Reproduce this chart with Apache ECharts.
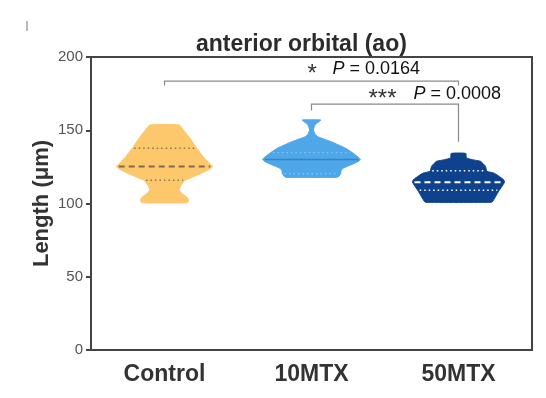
<!DOCTYPE html>
<html><head><meta charset="utf-8">
<script src="https://cdn.jsdelivr.net/npm/echarts@6/dist/echarts.min.js"></script>
<style>html,body{margin:0;padding:0;background:#fff}#c{width:546px;height:398px}</style>
</head><body><div id="c"></div>
<script>
// ---------- data ----------
const categories = ['Control', '10MTX', '50MTX'];
const yTicks = [0, 50, 100, 150, 200];

// violin outlines: [value (µm), relative density]
const controlProfile = [
  [153.6, 0.30], [150, 0.39], [145, 0.51], [137.7, 0.66], [132, 0.79], [128, 0.90],
  [125.5, 0.98], [124, 0.95], [121, 0.78], [118, 0.57], [115.8, 0.42], [112, 0.33],
  [109, 0.30], [106.5, 0.37], [104, 0.47], [102, 0.49], [100.5, 0.46]
];
const mtx10Profile = [
  [157, 0.19], [155.5, 0.14], [153.6, 0.07], [150.2, 0.04], [147.5, 0.07], [145.6, 0.13],
  [142.2, 0.40], [137.7, 0.70], [133.1, 0.90], [130.2, 1.00], [128.5, 0.95], [126.3, 0.80],
  [124, 0.64], [122, 0.60], [120.6, 0.60], [118.3, 0.55], [117.8, 0.50]
];
const mtx50Profile = [
  [134.2, 0.15], [131.1, 0.16], [129.5, 0.35], [128.8, 0.45], [125.4, 0.55], [122.0, 0.58],
  [120.8, 0.72], [120.1, 0.76], [116.3, 0.92], [114.5, 0.94], [108.3, 0.82], [101.5, 0.70],
  [100.8, 0.67]
];
const medians = [125.3, 130.0, 114.5];
const lowerQuartiles = [115.8, 120.3, 109.0];
const upperQuartiles = [137.7, 134.7, 122.3];

// comparisons: [fromIndex, toIndex, barValue, leftLegEnd, rightLegEnd]
const comparisons = [[0, 2, 183.6, 180.5, 180.5], [1, 2, 167.9, 163.5, 142.2]];
const stars = ['*', '***'];
const pValues = ['0.0164', '0.0008'];

// ---------- styling ----------
const profiles = [controlProfile, mtx10Profile, mtx50Profile];
const fills = ['#FDC86C', '#4EA7E8', '#0F428D'];
const medianStyle = [
  { stroke: '#7a6a52', lineWidth: 2, lineDash: [6, 4] },
  { stroke: '#3584c4', lineWidth: 1.6, lineDash: null },
  { stroke: '#ffffff', lineWidth: 2, lineDash: [6, 4] }
];
const quartStyle = [
  { stroke: '#8c7650', lineWidth: 1.5, lineDash: [1.5, 3] },
  { stroke: '#86c3ef', lineWidth: 1.3, lineDash: [1.5, 3] },
  { stroke: '#ffffff', lineWidth: 1.5, lineDash: [1.5, 3] }
];
const starLeft = [-151, -90], pLeft = [-126, -45], labelUp = [-12, -10];

function densityAt(prof, v) {
  for (let k = 0; k < prof.length - 1; k++) {
    const a = prof[k], b = prof[k + 1];
    if ((v <= a[0] && v >= b[0])) {
      const t = (a[0] - v) / (a[0] - b[0] || 1);
      return a[1] + (b[1] - a[1]) * t;
    }
  }
  return 0;
}

const chart = echarts.init(document.getElementById('c'), null, { renderer: 'canvas' });
chart.setOption({
  animation: false,
  backgroundColor: '#fff',
  title: {
    text: 'anterior orbital (ao)', left: 196, top: 33, padding: 0,
    textStyle: { fontFamily: 'Liberation Sans, Arial', fontWeight: 'bold', fontSize: 23, color: '#2b2b2b' }
  },
  grid: { left: 91, right: 14, top: 57, bottom: 48, show: true, borderColor: '#444', borderWidth: 2 },
  xAxis: {
    type: 'category', data: categories, boundaryGap: true,
    axisLine: { lineStyle: { color: '#444', width: 2 } },
    axisTick: { alignWithLabel: true, length: 5, lineStyle: { color: '#444', width: 2 } },
    axisLabel: { margin: 13, fontFamily: 'Liberation Sans, Arial', fontWeight: 'bold', fontSize: 23, color: '#333' }
  },
  yAxis: {
    type: 'value', min: yTicks[0], max: yTicks[yTicks.length - 1], interval: yTicks[1] - yTicks[0],
    name: 'Length (μm)', nameLocation: 'middle', nameGap: 38, nameMoveOverlap: false,
    nameTextStyle: { fontFamily: 'Liberation Sans, Arial', fontWeight: 'bold', fontSize: 22, color: '#333' },
    splitLine: { show: false },
    axisLine: { show: true, lineStyle: { color: '#444', width: 2 } },
    axisTick: { show: true, length: 5, lineStyle: { color: '#444', width: 2 } },
    axisLabel: { margin: 8, fontFamily: 'Liberation Sans, Arial', fontSize: 15, color: '#555' }
  },
  graphic: [{ type: 'line', shape: { x1: 27, y1: 21, x2: 27, y2: 31 }, style: { stroke: '#777', lineWidth: 1 } }],
  series: [
    {
      type: 'custom', coordinateSystem: 'cartesian2d',
      data: categories.map((c, i) => [i]),
      encode: { x: 0 },
      renderItem: function (params, api) {
        const i = api.value(0);
        const prof = profiles[i];
        const hw = api.size([1, 0])[0] * 0.333;
        const cx = api.coord([i, 0])[0];
        const right = prof.map(p => [cx + p[1] * hw, api.coord([i, p[0]])[1]]);
        const left = prof.slice().reverse().map(p => [cx - p[1] * hw, api.coord([i, p[0]])[1]]);
        const children = [{
          type: 'polygon', shape: { points: right.concat(left), smooth: 0.15 },
          style: { fill: fills[i], stroke: fills[i], lineWidth: 1, lineJoin: 'round' }
        }];
        const mk = (v, st) => {
          const w = densityAt(prof, v) * hw - 2;
          const y = api.coord([i, v])[1];
          return { type: 'line', shape: { x1: cx - w, y1: y, x2: cx + w, y2: y },
                   style: Object.assign({}, st) };
        };
        children.push(mk(upperQuartiles[i], quartStyle[i]));
        children.push(mk(lowerQuartiles[i], quartStyle[i]));
        children.push(mk(medians[i], medianStyle[i]));
        return { type: 'group', children: children };
      }
    },
    {
      type: 'custom', coordinateSystem: 'cartesian2d',
      data: comparisons,
      encode: { x: [0, 1], y: [2, 3, 4] },
      renderItem: function (params, api) {
        const k = params.dataIndex;
        const c = comparisons[k];
        const x0 = api.coord([c[0], 0])[0], x1 = api.coord([c[1], 0])[0];
        const yt = api.coord([c[0], c[2]])[1];
        const yl = api.coord([c[0], c[3]])[1];
        const yr = api.coord([c[0], c[4]])[1];
        return {
          type: 'group', children: [
            { type: 'polyline', shape: { points: [[x0, yl], [x0, yt], [x1, yt], [x1, yr]] },
              style: { stroke: '#8a8a8a', lineWidth: 1.2, fill: null } },
            { type: 'text', x: x1 + starLeft[k], y: yt + labelUp[k] + 5,
              style: { text: stars[k], fontFamily: 'Liberation Sans, Arial', fontSize: 24, fill: '#333',
                       textAlign: 'left', textVerticalAlign: 'middle' } },
            { type: 'text', x: x1 + pLeft[k], y: yt + labelUp[k],
              style: { text: '{i|P} = ' + pValues[k], fontFamily: 'Liberation Sans, Arial', fontSize: 18, fill: '#111',
                       textAlign: 'left', textVerticalAlign: 'middle',
                       rich: { i: { fontStyle: 'italic', fontFamily: 'Liberation Sans, Arial', fontSize: 18, fill: '#111' } } } }
          ]
        };
      }
    }
  ]
});
</script></body></html>
